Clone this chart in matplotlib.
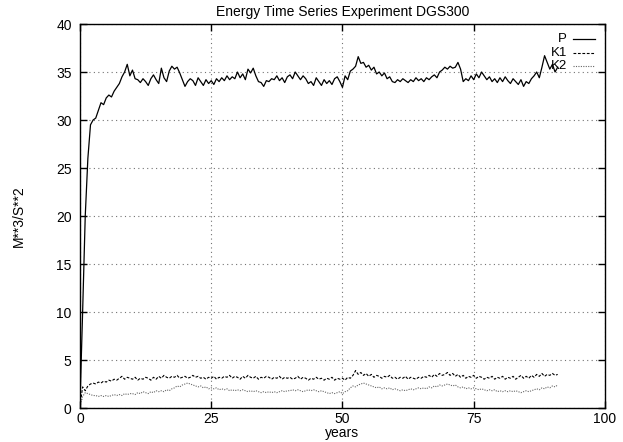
import numpy as np
import matplotlib
matplotlib.use("Agg")
import matplotlib.pyplot as plt

plt.rcParams['font.family'] = ['Liberation Sans', 'DejaVu Sans']

# time axis in years, half-year sampling
years = np.arange(0, 91.5, 0.5)

P = [
    0.5, 10.0, 20.0, 26.0, 29.5, 30.0, 30.2, 31.0, 31.8, 31.6,
    32.3, 32.6, 32.4, 33.0, 33.4, 33.8, 34.5, 35.0, 35.8, 34.6,
    35.2, 34.3, 34.2, 33.9, 34.3, 34.0, 33.6, 34.3, 34.7, 34.2,
    33.8, 35.4, 34.4, 34.0, 35.1, 35.6, 35.3, 35.5, 34.9, 34.2,
    33.5, 34.0, 34.3, 34.1, 33.6, 34.4, 34.0, 33.6, 34.2, 33.8,
    34.1, 33.7, 34.3, 34.0, 34.4, 34.1, 34.6, 34.2, 34.5, 34.3,
    35.0, 34.4, 34.8, 34.2, 35.3, 34.9, 35.4, 34.6, 34.0, 33.9,
    33.5, 34.1, 34.0, 34.3, 34.2, 34.6, 34.1, 34.4, 33.9, 34.5,
    34.7, 34.3, 35.0, 34.6, 34.2, 34.6, 34.3, 33.8, 34.0, 33.6,
    34.4, 34.0, 33.6, 34.2, 33.8, 34.1, 33.7, 34.3, 34.5, 34.0,
    33.4, 34.6, 34.2, 35.1, 35.3, 35.6, 36.6, 35.9, 36.0, 35.5,
    35.7, 35.2, 35.5, 34.8, 35.0, 34.6, 34.9, 34.3, 34.5, 34.0,
    33.9, 34.2, 34.0, 34.3, 34.1, 33.9, 34.2, 34.0, 34.4, 34.1,
    34.3, 34.0, 34.4, 34.2, 34.5, 34.7, 34.4, 35.0, 35.2, 35.5,
    35.3, 35.6, 35.4, 35.5, 36.0, 35.3, 34.0, 34.3, 34.1, 34.6,
    34.2, 34.8, 34.4, 35.0, 34.6, 34.2, 34.5, 34.0, 34.3, 33.9,
    34.4, 34.0, 34.5, 34.1, 33.8, 34.3, 34.0, 33.7, 34.2, 33.5,
    34.0, 33.8, 34.3, 34.6, 35.0, 34.4, 35.5, 36.7, 36.0, 35.3,
    35.8, 35.0, 35.5,
]

K1 = [
    0.2, 2.2, 1.8, 2.3, 2.5, 2.6, 2.5, 2.7, 2.6, 2.8,
    2.7, 2.9, 2.8, 3.0, 2.9, 3.1, 3.3, 3.0, 3.2, 3.1,
    3.0, 3.2, 2.9, 3.1, 3.0, 3.2, 3.1, 2.9, 3.2, 3.0,
    3.3, 3.1, 3.4, 3.2, 3.1, 3.3, 3.2, 3.4, 3.1, 3.2,
    3.3, 3.1, 3.2, 3.4, 3.2, 3.3, 3.1, 3.2, 3.0, 3.2,
    3.1, 3.3, 3.0, 3.2, 3.1, 3.3, 3.2, 3.4, 3.1, 3.3,
    3.2, 3.0, 3.3, 3.1, 3.4, 3.2, 3.1, 3.3, 3.0, 3.2,
    3.1, 3.3, 3.2, 3.0, 3.2, 3.1, 3.3, 3.0, 3.2, 3.1,
    3.2, 3.0, 3.1, 3.3, 3.0, 3.2, 3.1, 2.9, 3.1, 3.0,
    3.2, 3.0, 3.1, 2.9, 3.1, 3.0, 3.2, 2.9, 3.1, 3.0,
    3.1, 2.9, 3.2, 3.1, 3.4, 3.9, 3.5, 3.7, 3.4, 3.6,
    3.3, 3.5, 3.2, 3.4, 3.3, 3.1, 3.3, 3.2, 3.4, 3.1,
    3.2, 3.0, 3.2, 3.1, 3.3, 3.0, 3.2, 3.1, 3.0, 3.2,
    3.1, 3.3, 3.2, 3.4, 3.2, 3.5, 3.3, 3.6, 3.4, 3.5,
    3.7, 3.4, 3.6, 3.3, 3.5, 3.2, 3.4, 3.1, 3.3, 3.2,
    3.4, 3.1, 3.3, 3.2, 3.0, 3.2, 3.1, 3.3, 3.0, 3.2,
    3.1, 3.3, 3.0, 3.2, 3.1, 3.3, 3.0, 3.2, 3.4, 3.1,
    3.3, 3.1, 3.4, 3.2, 3.5, 3.3, 3.6, 3.3, 3.5, 3.4,
    3.6, 3.4, 3.5,
]

K2 = [
    0.1, 1.2, 1.6, 1.5, 1.4, 1.3, 1.3, 1.2, 1.3, 1.2,
    1.3, 1.2, 1.3, 1.4, 1.3, 1.4, 1.3, 1.5, 1.4, 1.5,
    1.5, 1.4, 1.6, 1.5, 1.7, 1.6, 1.5, 1.7, 1.6, 1.8,
    1.7, 1.8, 1.7, 1.9, 1.8, 2.0, 2.1, 2.3, 2.2, 2.4,
    2.5, 2.6, 2.5, 2.4, 2.3, 2.2, 2.3, 2.1, 2.2, 2.0,
    2.1, 2.0, 2.1, 1.9, 2.0, 1.9, 2.0, 1.8, 1.9, 1.8,
    1.9, 1.8, 1.9, 1.8, 1.7, 1.8, 1.7, 1.8, 1.7, 1.6,
    1.7, 1.6, 1.7, 1.6, 1.7, 1.6, 1.7, 1.8, 1.7, 1.8,
    1.8, 1.9, 1.8, 1.9, 1.8, 1.7, 1.8, 1.9, 1.8, 1.9,
    1.8, 1.7, 1.8, 1.7, 1.6, 1.5, 1.6, 1.5, 1.6, 1.7,
    1.5, 1.7, 1.8, 2.1, 2.3, 2.2, 2.4, 2.5, 2.6, 2.5,
    2.4, 2.3, 2.2, 2.1, 2.2, 2.0, 2.1, 2.0, 2.1, 1.9,
    2.0, 1.9, 1.8, 1.9, 1.8, 1.9, 2.0, 1.9, 2.0, 2.1,
    2.0, 2.1, 2.0, 2.2, 2.1, 2.3, 2.2, 2.4, 2.3, 2.4,
    2.5, 2.4, 2.3, 2.4, 2.2, 2.1, 2.2, 2.0, 2.1, 2.0,
    2.1, 2.0, 1.9, 2.0, 1.9, 1.8, 1.9, 1.8, 1.9, 1.7,
    1.8, 1.7, 1.8, 1.7, 1.8, 1.7, 1.8, 1.7, 1.6, 1.7,
    1.8, 1.7, 1.8, 1.9, 2.0, 1.9, 2.1, 2.0, 2.2, 2.1,
    2.3, 2.2, 2.4,
]

labels = ["P", "K1", "K2"]
xticks = [0, 25, 50, 75, 100]
yticks = [0, 5, 10, 15, 20, 25, 30, 35, 40]

fig = plt.figure(figsize=(6.23, 4.42), dpi=100)
ax = fig.add_axes([0.1284, 0.0769, 0.8426, 0.8688])

styles = [
    dict(color="black", linestyle="-", linewidth=0.9),
    dict(color="black", linestyle=(0, (2.5, 1.5)), linewidth=0.8),
    dict(color="0.4", linestyle=(0, (1, 1.2)), linewidth=0.8),
]
for series, st in zip([P, K1, K2], styles):
    ax.plot(years, series, **st)

ax.set_xlim(0, 100)
ax.set_ylim(0, 40)
ax.set_xticks(xticks)
ax.set_yticks(yticks)
ax.tick_params(direction="in", length=5, width=1, top=True, right=True,
               labelsize=10)
ax.tick_params(axis="y", pad=6)
ax.tick_params(axis="x", pad=3)
ax.grid(True, linestyle=(0, (1, 3)), color="0.45", linewidth=0.8)
for sp in ax.spines.values():
    sp.set_linewidth(1.0)

ax.set_title("Energy Time Series Experiment DGS300", fontsize=10, pad=6)
ax.set_xlabel("years", fontsize=10, labelpad=0)
ax.set_ylabel("M**3/S**2", fontsize=10, labelpad=22)

# gnuplot-style key: label right-aligned, sample to the right
rows = [0.960, 0.925, 0.890]
for lab, st, y in zip(labels, styles, rows):
    ax.text(0.928, y, lab, ha="right", va="center", fontsize=9.5,
            transform=ax.transAxes)
    ax.plot([0.939, 0.981], [y, y], transform=ax.transAxes, **st)

fig.savefig("out.png", dpi=100)
